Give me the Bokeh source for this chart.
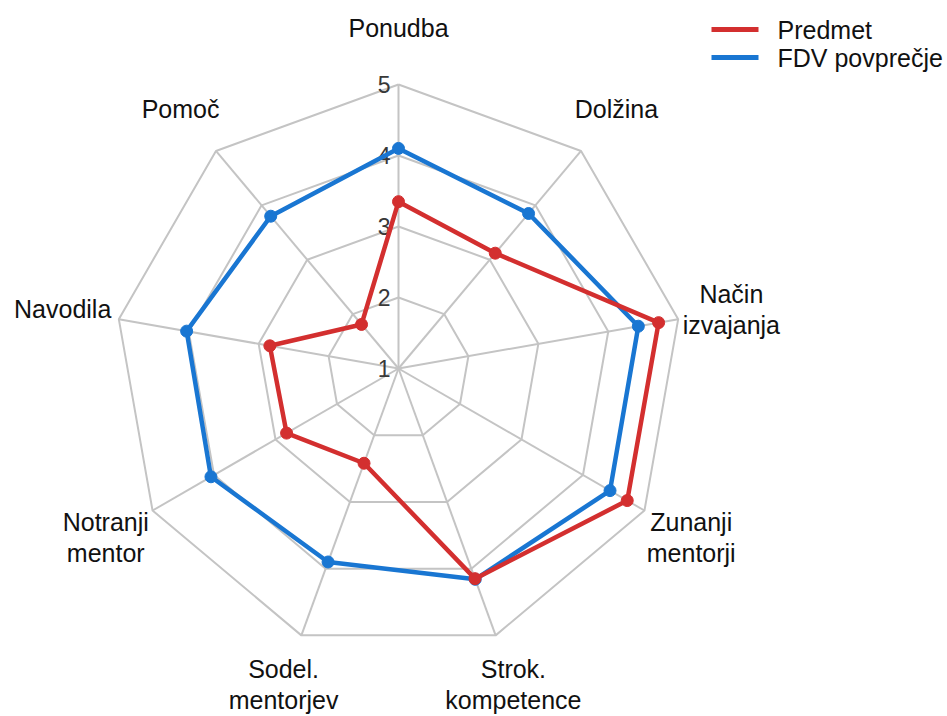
import numpy as np
from bokeh.plotting import figure
from bokeh.models import Range1d
from bokeh.embed import file_html
from bokeh.resources import INLINE
from bokeh.core.properties import value

categories = ["Ponudba", "Dolžina", "Način\nizvajanja", "Zunanji\nmentorji",
              "Strok.\nkompetence", "Sodel.\nmentorjev", "Notranji\nmentor",
              "Navodila", "Pomoč"]
predmet = [3.35, 3.12, 4.72, 4.72, 4.15, 2.42, 2.82, 2.84, 1.81]
fdv = [4.10, 3.85, 4.43, 4.44, 4.16, 3.90, 4.05, 4.03, 3.80]
levels = [1, 2, 3, 4, 5]
series_names = ["Predmet", "FDV povprečje"]
RED = "#d32f2f"
BLUE = "#1976d2"
GRID = "#c4c4c4"
FONT = "Liberation Sans"

W, H = 947, 716
CX, CY = 398, 368
S = 71.0

p = figure(width=W, height=H, output_backend="svg", toolbar_location=None,
           x_axis_type=None, y_axis_type=None, min_border=0,
           x_range=Range1d(-CX / S, (W - CX) / S),
           y_range=Range1d(-(H - CY) / S, CY / S))
p.grid.visible = False
p.outline_line_color = None
p.background_fill_color = "white"
p.border_fill_color = "white"

n = len(categories)
ang = np.array([np.pi / 2 - 2 * np.pi * i / n for i in range(n)])


def pts(vals):
    r = np.array(vals) - 1.0
    return r * np.cos(ang), r * np.sin(ang)


# grid polygons
for lv in levels[1:]:
    x, y = pts([lv] * n)
    p.line(list(x) + [x[0]], list(y) + [y[0]], line_color=GRID, line_width=2)
# spokes
for a in ang:
    p.line([0, 4 * np.cos(a)], [0, 4 * np.sin(a)], line_color=GRID, line_width=2)

# tick labels
p.text(x=[-8 / S] * len(levels), y=[lv - 1 for lv in levels], text=[str(lv) for lv in levels],
       text_align="right", text_baseline="middle", text_font=value(FONT),
       text_font_size="23px", text_color="#383838")

# category labels
lr = np.array([341, 339, 338, 338, 336, 336, 338, 341, 339]) / S
p.text(x=list(lr * np.cos(ang)), y=list(lr * np.sin(ang)), text=categories,
       text_align="center", text_baseline="middle", text_font=value(FONT),
       text_font_size="25px", text_color="#111111", text_line_height=1.1)

# data
for vals, col in [(fdv, BLUE), (predmet, RED)]:
    x, y = pts(vals)
    p.line(list(x) + [x[0]], list(y) + [y[0]], line_color=col, line_width=4.5)
    p.scatter(list(x), list(y), size=12, fill_color=col, line_color=col)

# legend
def px(xp):
    return (xp - CX) / S


def py(yp):
    return (CY - yp) / S


for i, (name, col) in enumerate(zip(series_names, [RED, BLUE])):
    yy = py(29 + 28 * i)
    p.line([px(711), px(758)], [yy, yy], line_color=col, line_width=5)
    p.text(x=[px(777)], y=[yy], text=[name], text_align="left", text_baseline="middle",
           text_font=value(FONT), text_font_size="25px", text_color="#111111")

open("out.html", "w").write(file_html(p, INLINE))
